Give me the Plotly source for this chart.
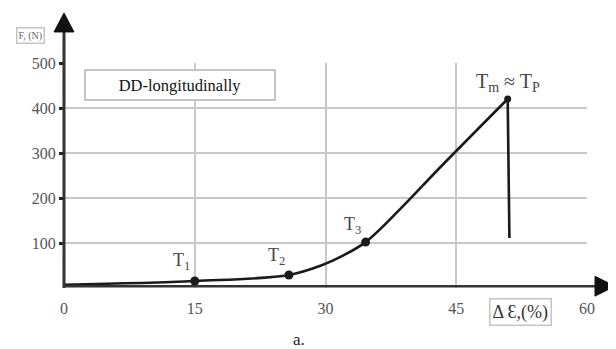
import plotly.graph_objects as go

# Curve data (strain %, force N)
strain = [0, 15, 25.8, 29.5, 32, 34.6, 38.5, 43, 50.9]
force = [7, 15.5, 29, 50, 72, 102, 174, 265, 420]
drop_strain = [50.9, 51.1]
drop_force = [420, 111]

pt_names = ["T<sub>1</sub>", "T<sub>2</sub>", "T<sub>3</sub>"]
pt_strain = [15, 25.8, 34.6]
pt_force = [15.5, 29, 102]
pt_label_strain = [13.5, 24.4, 33.1]
pt_label_force = [60, 71, 140]
peak_strain = [50.9]
peak_force = [420]

x_ticks = [0, 15, 30, 45, 60]
y_ticks = [100, 200, 300, 400, 500]

serif = "Liberation Serif"
dark = "#1a1a1a"

fig = go.Figure()
fig.add_trace(go.Scatter(x=strain, y=force, mode="lines",
                         line=dict(color=dark, width=2.6, shape="spline", smoothing=1.0),
                         showlegend=False, hoverinfo="skip"))
fig.add_trace(go.Scatter(x=drop_strain, y=drop_force, mode="lines", line=dict(color=dark, width=2.6),
                         showlegend=False, hoverinfo="skip"))
fig.add_trace(go.Scatter(x=pt_strain, y=pt_force, mode="markers", marker=dict(color=dark, size=9),
                         showlegend=False, hoverinfo="skip"))
fig.add_trace(go.Scatter(x=peak_strain, y=peak_force, mode="markers", marker=dict(color=dark, size=7),
                         showlegend=False, hoverinfo="skip"))

# T labels
for name, xv, yv in zip(pt_names, pt_label_strain, pt_label_force):
    fig.add_annotation(x=xv, y=yv, text=name, showarrow=False,
                       font=dict(family=serif, size=18, color="#444"), xanchor="center", yanchor="middle")
fig.add_annotation(x=peak_strain[0], y=peak_force[0] + 4, text="T<sub>m</sub> ≈ T<sub>P</sub>",
                   showarrow=False, font=dict(family=serif, size=20, color="#444"),
                   xanchor="center", yanchor="bottom")

# Legend-like box
fig.add_annotation(xref="paper", yref="paper", x=0.038, y=0.973, xanchor="left", yanchor="top",
                   text="DD-longitudinally", showarrow=False, align="center",
                   font=dict(family=serif, size=16.5, color="#111"),
                   bordercolor="#c4c4c4", borderwidth=2, bgcolor="white",
                   width=186, height=26, borderpad=1)

# axis titles in boxes
fig.add_annotation(xref="paper", yref="paper", x=-0.065, y=1.124, xanchor="center", yanchor="middle",
                   text="F, (N)", showarrow=False, font=dict(family=serif, size=10, color="#666"),
                   bordercolor="#c4c4c4", borderwidth=1.5, borderpad=1, bgcolor="white")
fig.add_annotation(xref="paper", yref="paper", x=0.8126, y=-0.107, xanchor="left", yanchor="middle",
                   text="Δ Ɛ,(%)", showarrow=False, font=dict(family=serif, size=18, color="#333"),
                   bordercolor="#c4c4c4", borderwidth=1.5, borderpad=2, bgcolor="white")
fig.add_annotation(xref="paper", yref="paper", x=0.45, y=-0.227, xanchor="center", yanchor="middle",
                   text="a.", showarrow=False, font=dict(family=serif, size=17, color="#222"))

# axis lines with arrow heads
axis_col = "#333"
fig.add_shape(type="line", xref="paper", yref="paper", x0=0, y0=0, x1=0, y1=1.14,
              line=dict(color=axis_col, width=3))
fig.add_shape(type="path", xref="paper", yref="paper",
              path="M 0 1.222 L 0.0191 1.138 L -0.0191 1.138 Z",
              fillcolor="#111", line=dict(color="#111", width=1))
fig.add_shape(type="line", xref="paper", yref="paper", x0=0, y0=0.008, x1=1.017, y1=0.008,
              line=dict(color=axis_col, width=2.5))
fig.add_shape(type="path", xref="paper", yref="paper",
              path="M 1.0535 0.008 L 1.0153 0.052 L 1.0153 -0.036 Z",
              fillcolor="#111", line=dict(color="#111", width=1))

fig.update_xaxes(range=[0, 60], tickvals=x_ticks, ticktext=[str(v) for v in x_ticks],
                 showgrid=True, gridcolor="#c8c8c8", gridwidth=1.5, zeroline=False,
                 showline=False, ticklabelstandoff=9,
                 tickfont=dict(family=serif, size=16, color="#555"), ticks="", ticklen=0)
fig.update_yaxes(range=[0, 500], tickvals=y_ticks, ticktext=[str(v) for v in y_ticks],
                 showgrid=True, gridcolor="#c8c8c8", gridwidth=1.5, zeroline=False,
                 showline=False,
                 tickfont=dict(family=serif, size=16, color="#555"), ticks="outside", ticklen=4,
                 tickcolor="#222", tickwidth=2.5)

# page body adds an 8px offset, so the figure is 8px smaller and shifted
fig.update_layout(width=608, height=341, margin=dict(l=56, r=29, t=55, b=61, autoexpand=False),
                  plot_bgcolor="white", paper_bgcolor="white", showlegend=False)

fig.write_html("out.html")
